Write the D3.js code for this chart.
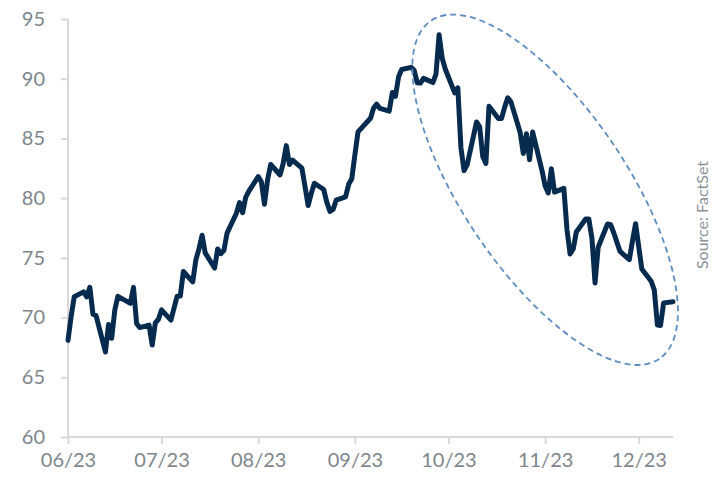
<!DOCTYPE html>
<html lang="en">
<head>
<meta charset="UTF-8">
<title>WTI crude</title>
<script src="https://d3js.org/d3.v7.min.js"></script>
<style>
    body {
        margin: 0;
        padding: 0;
        background-color: #ffffff;
    }
    svg {
        display: block;
    }
    .tick-label {
        font-family: Lato, "Open Sans", sans-serif;
        font-size: 20px;
        fill: #7d868c;
    }
    .source {
        font-family: Lato, "Open Sans", sans-serif;
        font-size: 16px;
        fill: #8a9298;
    }
</style>
</head>
<body>
<svg id="chart" width="712" height="479"></svg>
<script>
// plotted dates (as on the chart) and prices
const dates = [
    "2023-06-01","2023-06-02","2023-06-03","2023-06-06","2023-06-07","2023-06-08","2023-06-09","2023-06-10",
    "2023-06-13","2023-06-14","2023-06-15","2023-06-16","2023-06-17","2023-06-21","2023-06-22","2023-06-23",
    "2023-06-24","2023-06-27","2023-06-28","2023-06-29","2023-06-30","2023-07-01","2023-07-04","2023-07-06",
    "2023-07-07","2023-07-08","2023-07-11","2023-07-12","2023-07-13","2023-07-14","2023-07-15","2023-07-18",
    "2023-07-19","2023-07-20","2023-07-21","2023-07-22","2023-07-25","2023-07-26","2023-07-27","2023-07-28",
    "2023-07-29","2023-08-01","2023-08-02","2023-08-03","2023-08-04","2023-08-05","2023-08-08","2023-08-09",
    "2023-08-10","2023-08-11","2023-08-12","2023-08-15","2023-08-16","2023-08-17","2023-08-18","2023-08-19",
    "2023-08-22","2023-08-23","2023-08-24","2023-08-25","2023-08-26","2023-08-29","2023-08-30","2023-08-31",
    "2023-09-01","2023-09-02","2023-09-06","2023-09-07","2023-09-08","2023-09-09","2023-09-12","2023-09-13",
    "2023-09-14","2023-09-15","2023-09-16","2023-09-19","2023-09-20","2023-09-21","2023-09-22","2023-09-23",
    "2023-09-26","2023-09-27","2023-09-28","2023-09-29","2023-09-30","2023-10-03","2023-10-04","2023-10-05",
    "2023-10-06","2023-10-07","2023-10-10","2023-10-11","2023-10-12","2023-10-13","2023-10-14","2023-10-17",
    "2023-10-18","2023-10-19","2023-10-20","2023-10-21","2023-10-24","2023-10-25","2023-10-26","2023-10-27",
    "2023-10-28","2023-10-31","2023-11-01","2023-11-02","2023-11-03","2023-11-04","2023-11-07","2023-11-08",
    "2023-11-09","2023-11-10","2023-11-11","2023-11-14","2023-11-15","2023-11-16","2023-11-17","2023-11-18",
    "2023-11-21","2023-11-22","2023-11-23","2023-11-25","2023-11-28","2023-11-29","2023-11-30","2023-12-01",
    "2023-12-02","2023-12-05","2023-12-06","2023-12-07","2023-12-08","2023-12-09","2023-12-12"
];
const prices = [
    68.09, 70.10, 71.74, 72.15, 71.74, 72.53, 70.29, 70.17,
    67.12, 69.42, 68.27, 70.62, 71.78, 71.19, 72.53, 69.51,
    69.16, 69.37, 67.70, 69.56, 69.86, 70.64, 69.79, 71.79,
    71.80, 73.86, 72.99, 74.83, 75.75, 76.89, 75.42, 74.15,
    75.75, 75.35, 75.63, 77.07, 78.74, 79.63, 78.78, 80.09,
    80.58, 81.80, 81.37, 79.49, 81.55, 82.82, 81.94, 82.92,
    84.40, 82.82, 83.19, 82.51, 80.99, 79.38, 80.39, 81.25,
    80.72, 79.64, 78.89, 79.05, 79.83, 80.10, 81.16, 81.63,
    83.63, 85.55, 86.69, 87.54, 87.87, 87.51, 87.29, 88.84,
    88.52, 90.16, 90.77, 90.95, 90.70, 89.66, 89.63, 90.03,
    89.68, 90.39, 93.68, 91.71, 90.79, 88.82, 89.23, 84.22,
    82.31, 82.79, 86.38, 85.97, 83.49, 82.91, 87.69, 86.66,
    86.66, 87.60, 88.40, 88.08, 85.49, 83.74, 85.39, 83.21,
    85.54, 82.31, 81.02, 80.44, 82.46, 80.51, 80.82, 77.37,
    75.33, 75.74, 77.17, 78.26, 78.26, 76.66, 72.90, 75.89,
    77.83, 77.77, 77.10, 75.54, 74.86, 76.41, 77.86, 75.96,
    74.07, 73.04, 72.32, 69.38, 69.34, 71.23, 71.32
];
const monthTicks = ["2023-06-01","2023-07-01","2023-08-01","2023-09-01","2023-10-01","2023-11-01","2023-12-01"];
const yTicks = [60, 65, 70, 75, 80, 85, 90, 95];
const sourceText = "Source: FactSet";

const parse = d3.timeParse("%Y-%m-%d");
const data = dates.map((d, i) => ({ date: parse(d), value: prices[i] }));

const svg = d3.select('#chart'),
    margin = { top: 19, right: 39, bottom: 42, left: 68 },
    width = +svg.attr('width') - margin.left - margin.right,
    height = +svg.attr('height') - margin.top - margin.bottom;

const g = svg.append('g').attr('transform', `translate(${margin.left},${margin.top})`);

const x = d3.scaleTime()
    .domain([parse("2023-06-01"), parse("2023-12-12")])
    .range([0, width]);
const y = d3.scaleLinear().domain([60, 95]).range([height, 0]);

const axisColor = '#d9d9d9';

// y axis
const yAxis = g.append('g')
    .call(d3.axisLeft(y).tickValues(yTicks).tickSize(7).tickPadding(16).tickFormat(d3.format('d')));
yAxis.select('.domain').attr('stroke', axisColor).attr('stroke-width', 2).attr('d', `M0,${height}V0`);
yAxis.selectAll('.tick line').attr('stroke', axisColor).attr('stroke-width', 2);
yAxis.selectAll('.tick text').attr('class', 'tick-label').attr('fill', null);

// x axis
const xAxis = g.append('g')
    .attr('transform', `translate(0,${height})`)
    .call(d3.axisBottom(x).tickValues(monthTicks.map(parse)).tickSize(7).tickPadding(9)
        .tickFormat(d3.timeFormat('%m/%y')));
xAxis.select('.domain').attr('stroke', axisColor).attr('stroke-width', 2).attr('d', `M0,0H${width}`);
xAxis.selectAll('.tick line').attr('stroke', axisColor).attr('stroke-width', 2);
xAxis.selectAll('.tick text').attr('class', 'tick-label').attr('fill', null);

// price line
const line = d3.line()
    .x(d => x(d.date))
    .y(d => y(d.value));

g.append('path')
    .datum(data)
    .attr('fill', 'none')
    .attr('stroke', '#062b4e')
    .attr('stroke-width', 5)
    .attr('stroke-linejoin', 'round')
    .attr('stroke-linecap', 'round')
    .attr('d', line);

// dashed ellipse around the autumn decline
const cx = x(parse("2023-11-01")), cy = y(80.7);
g.append('ellipse')
    .attr('cx', 0).attr('cy', 0)
    .attr('rx', 204).attr('ry', 82)
    .attr('transform', `translate(${cx},${cy}) rotate(56)`)
    .attr('fill', 'none')
    .attr('stroke', '#5b8dc2')
    .attr('stroke-width', 1.8)
    .attr('stroke-dasharray', '6,4');

// source note
svg.append('text')
    .attr('class', 'source')
    .attr('transform', 'translate(708,215) rotate(-90)')
    .attr('text-anchor', 'middle')
    .text(sourceText);
</script>
</body>
</html>
